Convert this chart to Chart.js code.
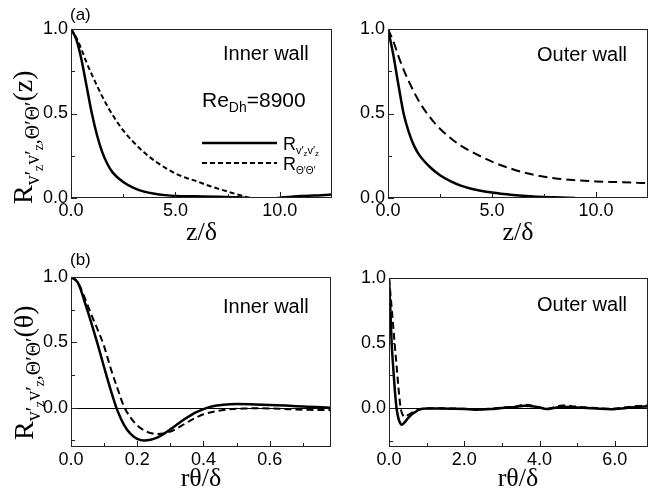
<!DOCTYPE html>
<html lang="en">
<head>
<meta charset="UTF-8" />
<title>Correlation functions</title>
<script src="https://cdn.jsdelivr.net/npm/chart.js"></script>
<style>
  body { margin: 0; background: #fff; }
  #wrap { position: relative; width: 655px; height: 491px; overflow: hidden; }
  canvas { position: absolute; }
</style>
</head>
<body>
<div id="wrap">
  <canvas id="aInner" width="345" height="248" style="left:0;top:0"></canvas>
  <canvas id="aOuter" width="310" height="248" style="left:345px;top:0"></canvas>
  <canvas id="bInner" width="345" height="243" style="left:0;top:248px"></canvas>
  <canvas id="bOuter" width="310" height="243" style="left:345px;top:248px"></canvas>
</div>
<script>
// (a) streamwise correlation, inner wall
const aInnerVV_z = [0, 0.25, 0.5, 0.75, 1, 1.25, 1.5, 1.75, 2, 2.5, 3, 3.5, 4, 4.5, 5, 6, 7, 8, 8.8, 9.5, 10.2, 11, 12, 12.5];
const aInnerVV_R = [1, 0.94, 0.82, 0.66, 0.5, 0.37, 0.27, 0.2, 0.15, 0.095, 0.06, 0.038, 0.025, 0.017, 0.012, 0.01, 0.008, 0.004, -0.003, -0.005, 0.004, 0.012, 0.017, 0.02];
const aInnerTT_z = [0, 0.25, 0.5, 0.75, 1, 1.5, 2, 2.5, 3, 3.5, 4, 4.5, 5, 5.5, 6, 6.5, 7, 7.5, 8, 8.5, 9, 10, 11, 12, 12.5];
const aInnerTT_R = [1, 0.95, 0.88, 0.8, 0.73, 0.6, 0.49, 0.4, 0.33, 0.27, 0.22, 0.18, 0.145, 0.12, 0.1, 0.077, 0.057, 0.038, 0.02, 0.003, -0.01, -0.015, -0.015, -0.015, -0.015];
// (a) outer wall
const aOuterVV_z = [0, 0.25, 0.5, 0.75, 1, 1.25, 1.5, 2, 2.5, 3, 3.5, 4, 5, 6, 7, 8, 9];
const aOuterVV_R = [1, 0.85, 0.67, 0.5, 0.39, 0.31, 0.255, 0.185, 0.135, 0.1, 0.073, 0.055, 0.032, 0.018, 0.009, 0.004, 0];
const aOuterTT_z = [0, 0.25, 0.5, 0.75, 1, 1.5, 2, 2.5, 3, 3.5, 4, 5, 6, 7, 8, 9, 10, 11, 12, 12.5];
const aOuterTT_R = [1, 0.93, 0.84, 0.76, 0.69, 0.57, 0.48, 0.41, 0.355, 0.31, 0.275, 0.215, 0.17, 0.137, 0.117, 0.105, 0.098, 0.094, 0.09, 0.088];
// (b) azimuthal correlation, inner wall
const bInnerVV_x = [0, 0.02, 0.03, 0.04, 0.06, 0.08, 0.1, 0.12, 0.14, 0.16, 0.18, 0.2, 0.22, 0.24, 0.26, 0.28, 0.3, 0.32, 0.34, 0.36, 0.38, 0.4, 0.42, 0.44, 0.46, 0.48, 0.5, 0.54, 0.58, 0.62, 0.66, 0.7, 0.74, 0.785];
const bInnerVV_R = [1, 0.96, 0.9, 0.82, 0.66, 0.49, 0.31, 0.135, -0.02, -0.13, -0.2, -0.237, -0.25, -0.245, -0.228, -0.2, -0.165, -0.128, -0.092, -0.06, -0.032, -0.01, 0.007, 0.017, 0.023, 0.027, 0.028, 0.027, 0.024, 0.02, 0.015, 0.01, 0.005, 0];
const bInnerTT_x = [0, 0.02, 0.04, 0.06, 0.08, 0.1, 0.12, 0.14, 0.16, 0.18, 0.2, 0.22, 0.24, 0.26, 0.28, 0.3, 0.32, 0.34, 0.36, 0.38, 0.4, 0.44, 0.48, 0.52, 0.56, 0.6, 0.64, 0.68, 0.72, 0.785];
const bInnerTT_R = [1, 0.96, 0.85, 0.72, 0.6, 0.47, 0.3, 0.15, 0.01, -0.075, -0.135, -0.172, -0.193, -0.2, -0.196, -0.182, -0.158, -0.128, -0.098, -0.072, -0.05, -0.025, -0.012, -0.006, -0.004, -0.005, -0.009, -0.013, -0.016, -0.018];
// (b) outer wall
const bOuterVV_x = [0, 0.03, 0.07, 0.12, 0.16, 0.2, 0.25, 0.3, 0.34, 0.4, 0.5, 0.6, 0.7, 0.8, 0.9, 1.0, 1.3, 1.7, 2.0, 2.3, 2.7, 3.0, 3.4, 3.6, 3.9, 4.2, 4.6, 5.0, 5.5, 5.9, 6.3, 6.6, 6.88];
const bOuterVV_R = [1, 0.8, 0.5, 0.28, 0.12, 0, -0.08, -0.118, -0.128, -0.115, -0.08, -0.05, -0.03, -0.013, -0.006, -0.003, -0.004, -0.006, -0.008, -0.013, -0.008, 0, 0.01, 0.018, 0.01, -0.008, 0.01, 0.004, -0.004, -0.01, 0, 0.008, 0.012];
const bOuterTT_x = [0, 0.05, 0.1, 0.14, 0.2, 0.25, 0.31, 0.36, 0.42, 0.5, 0.6, 0.7, 0.8, 0.9, 1.0, 1.3, 1.7, 2.0, 2.3, 2.7, 3.0, 3.4, 3.6, 3.9, 4.2, 4.6, 5.0, 5.5, 5.9, 6.3, 6.6, 6.88];
const bOuterTT_R = [1, 0.84, 0.67, 0.53, 0.33, 0.16, 0, -0.05, -0.068, -0.055, -0.038, -0.024, -0.012, -0.005, -0.002, -0.002, -0.004, -0.006, -0.01, -0.005, 0.003, 0.013, 0.025, 0.012, -0.005, 0.02, 0.01, 0, -0.006, 0.005, 0.016, 0.02];

// tick values
const aXMajor = [0, 5, 10], aXMinor = [2.5, 7.5];
const aYMajor = [0, 0.5, 1], aYMinor = [0.25, 0.75];
const bInXMajor = [0, 0.2, 0.4, 0.6], bInXMinor = [0.1, 0.3, 0.5, 0.7];
const bOutXMajor = [0, 2, 4, 6], bOutXMinor = [1, 3, 5];
const bYMajor = [0, 0.5, 1], bYMinor = [-0.25, 0.25, 0.75];

const SERIF = '"Liberation Serif", "Times New Roman", serif';
const SANS = '"Liberation Sans", Arial, Helvetica, sans-serif';

function pts(xs, ys) {
  return xs.map((x, i) => ({ x: x, y: ys[i] }));
}

function drawRich(ctx, parts, x, y, opts) {
  opts = opts || {};
  ctx.save();
  ctx.translate(x, y);
  if (opts.rot) ctx.rotate(opts.rot);
  ctx.fillStyle = '#000';
  ctx.textBaseline = 'alphabetic';
  ctx.textAlign = 'left';
  let total = 0;
  parts.forEach(p => { ctx.font = p.f; total += ctx.measureText(p.t).width; });
  let cx = opts.center ? -total / 2 : 0;
  parts.forEach(p => {
    ctx.font = p.f;
    ctx.fillText(p.t, cx, p.dy || 0);
    cx += ctx.measureText(p.t).width;
  });
  ctx.restore();
}

const panelDecor = {
  id: 'panelDecor',
  beforeDatasetsDraw(chart, args, o) {
    if (!o.zeroLine) return;
    const ctx = chart.ctx, a = chart.chartArea;
    const py = Math.round(chart.scales.y.getPixelForValue(0)) + 0.5;
    ctx.save();
    ctx.strokeStyle = '#000';
    ctx.lineWidth = 1;
    ctx.beginPath();
    ctx.moveTo(a.left, py);
    ctx.lineTo(a.right, py);
    ctx.stroke();
    ctx.restore();
  },
  afterDatasetsDraw(chart, args, o) {
    const ctx = chart.ctx, a = chart.chartArea;
    const sx = chart.scales.x, sy = chart.scales.y;
    ctx.save();
    ctx.strokeStyle = '#222';
    ctx.lineWidth = 1;
    ctx.strokeRect(a.left + 0.5, a.top + 0.5, a.right - a.left - 1, a.bottom - a.top - 1);
    ctx.beginPath();
    const xt = (vals, len) => vals.forEach(v => {
      const px = Math.round(sx.getPixelForValue(v)) + 0.5;
      ctx.moveTo(px, a.bottom);
      ctx.lineTo(px, a.bottom - len);
    });
    const yt = (vals, len) => vals.forEach(v => {
      const py = Math.round(sy.getPixelForValue(v)) + 0.5;
      ctx.moveTo(a.left, py);
      ctx.lineTo(a.left + len, py);
    });
    xt(o.xMajor, 6); xt(o.xMinor, 4);
    yt(o.yMajor, 6); yt(o.yMinor, 4);
    ctx.stroke();

    // legend samples
    if (o.legend) {
      ctx.strokeStyle = '#000';
      ctx.lineWidth = 2.5;
      ctx.beginPath();
      ctx.moveTo(202, 143); ctx.lineTo(277, 143);
      ctx.stroke();
      ctx.lineWidth = 2;
      ctx.setLineDash([5, 3]);
      ctx.beginPath();
      ctx.moveTo(202, 163); ctx.lineTo(277, 163);
      ctx.stroke();
      ctx.setLineDash([]);
    }
    ctx.restore();

    (o.texts || []).forEach(t => drawRich(ctx, t.parts, t.x, t.y, t));
  }
};

function yTitle(arg) {
  return [
    { t: 'R', f: '28px ' + SERIF },
    { t: 'v′', f: '20px ' + SERIF, dy: 7 },
    { t: 'z', f: '14px ' + SERIF, dy: 11 },
    { t: 'v′', f: '20px ' + SERIF, dy: 7 },
    { t: 'z', f: '14px ' + SERIF, dy: 11 },
    { t: ',', f: '20px ' + SERIF, dy: 7 },
    { t: 'Θ′Θ′', f: '20px ' + SERIF, dy: 7 },
    { t: '(' + arg + ')', f: '28px ' + SERIF }
  ];
}

function makePanel(id, p) {
  const tickFont = { family: SANS, size: 18 };
  new Chart(document.getElementById(id), {
    type: 'line',
    data: {
      datasets: [
        { data: pts(p.x1, p.y1), borderColor: '#000', borderWidth: 2.5, clip: 0 },
        { data: pts(p.x2, p.y2), borderColor: '#000', borderWidth: 2, borderDash: p.dash, clip: 0 }
      ]
    },
    options: {
      responsive: false,
      animation: false,
      events: [],
      layout: { padding: p.pad },
      elements: {
        point: { radius: 0 },
        line: { cubicInterpolationMode: 'monotone', fill: false }
      },
      plugins: {
        legend: { display: false },
        tooltip: { enabled: false },
        panelDecor: {
          xMajor: p.xMajor, xMinor: p.xMinor, yMajor: p.yMajor, yMinor: p.yMinor,
          zeroLine: p.zeroLine, legend: p.legend, texts: p.texts
        }
      },
      scales: {
        x: {
          type: 'linear', min: p.xMin, max: p.xMax,
          grid: { display: false, drawTicks: false },
          border: { display: false },
          afterBuildTicks: s => { s.ticks = p.xMajor.map(v => ({ value: v })); },
          afterFit: s => { s.height = p.xH; },
          ticks: { font: tickFont, color: '#000', padding: 2, maxRotation: 0, autoSkip: false,
                   callback: v => v.toFixed(1) }
        },
        y: {
          type: 'linear', min: p.yMin, max: 1,
          grid: { display: false, drawTicks: false },
          border: { display: false },
          afterBuildTicks: s => { s.ticks = p.yMajor.map(v => ({ value: v })); },
          afterFit: s => { s.width = p.yW; },
          ticks: { font: tickFont, color: '#000', padding: 3, autoSkip: false,
                   callback: v => v.toFixed(1) }
        }
      }
    },
    plugins: [panelDecor]
  });
}

const wallFont = '20px ' + SANS;

makePanel('aInner', {
  x1: aInnerVV_z, y1: aInnerVV_R, x2: aInnerTT_z, y2: aInnerTT_R, dash: [5, 3],
  xMin: 0, xMax: 12.5, yMin: 0,
  xMajor: aXMajor, xMinor: aXMinor, yMajor: aYMajor, yMinor: aYMinor,
  pad: { left: 0, right: 13, top: 29, bottom: 0 }, yW: 71, xH: 50, legend: true,
  texts: [
    { parts: [{ t: '(a)', f: '17px ' + SANS }], x: 70, y: 20 },
    { parts: [{ t: 'Inner wall', f: wallFont }], x: 223, y: 60 },
    { parts: [{ t: 'Re', f: '21px ' + SANS }, { t: 'Dh', f: '14px ' + SANS, dy: 5 }, { t: '=8900', f: '21px ' + SANS }], x: 202, y: 107 },
    { parts: [{ t: 'R', f: '18px ' + SANS }, { t: 'v′', f: '11px ' + SANS, dy: 4 }, { t: 'z', f: '8px ' + SANS, dy: 6 }, { t: 'v′', f: '11px ' + SANS, dy: 4 }, { t: 'z', f: '8px ' + SANS, dy: 6 }], x: 283, y: 150 },
    { parts: [{ t: 'R', f: '18px ' + SANS }, { t: 'Θ′Θ′', f: '10px ' + SANS, dy: 4 }], x: 283, y: 170 },
    { parts: yTitle('z'), x: 32, y: 204, rot: -Math.PI / 2 },
    { parts: [{ t: 'z/δ', f: '26px ' + SERIF }], x: 201.5, y: 240, center: true }
  ]
});

makePanel('aOuter', {
  x1: aOuterVV_z, y1: aOuterVV_R, x2: aOuterTT_z, y2: aOuterTT_R, dash: [9, 5],
  xMin: 0, xMax: 12.5, yMin: 0,
  xMajor: aXMajor, xMinor: aXMinor, yMajor: aYMajor, yMinor: aYMinor,
  pad: { left: 0, right: 7, top: 29, bottom: 0 }, yW: 43, xH: 50,
  texts: [
    { parts: [{ t: 'Outer wall', f: wallFont }], x: 192, y: 61 },
    { parts: [{ t: 'z/δ', f: '26px ' + SERIF }], x: 173, y: 240, center: true }
  ]
});

makePanel('bInner', {
  x1: bInnerVV_x, y1: bInnerVV_R, x2: bInnerTT_x, y2: bInnerTT_R, dash: [7, 4],
  xMin: 0, xMax: 0.785, yMin: -0.3,
  xMajor: bInXMajor, xMinor: bInXMinor, yMajor: bYMajor, yMinor: bYMinor,
  pad: { left: 0, right: 14, top: 29, bottom: 0 }, yW: 71, xH: 44, zeroLine: true,
  texts: [
    { parts: [{ t: '(b)', f: '17px ' + SANS }], x: 70, y: 17 },
    { parts: [{ t: 'Inner wall', f: wallFont }], x: 223, y: 65 },
    { parts: yTitle('θ'), x: 33, y: 192, rot: -Math.PI / 2 },
    { parts: [{ t: 'rθ/δ', f: '26px ' + SERIF }], x: 201, y: 238, center: true }
  ]
});

makePanel('bOuter', {
  x1: bOuterVV_x, y1: bOuterVV_R, x2: bOuterTT_x, y2: bOuterTT_R, dash: [7, 4],
  xMin: 0, xMax: 6.88, yMin: -0.3,
  xMajor: bOutXMajor, xMinor: bOutXMinor, yMajor: bYMajor, yMinor: bYMinor,
  pad: { left: 0, right: 7, top: 30, bottom: 0 }, yW: 44, xH: 44, zeroLine: true,
  texts: [
    { parts: [{ t: 'Outer wall', f: wallFont }], x: 192, y: 63 },
    { parts: [{ t: 'rθ/δ', f: '26px ' + SERIF }], x: 173, y: 238, center: true }
  ]
});
</script>
</body>
</html>
